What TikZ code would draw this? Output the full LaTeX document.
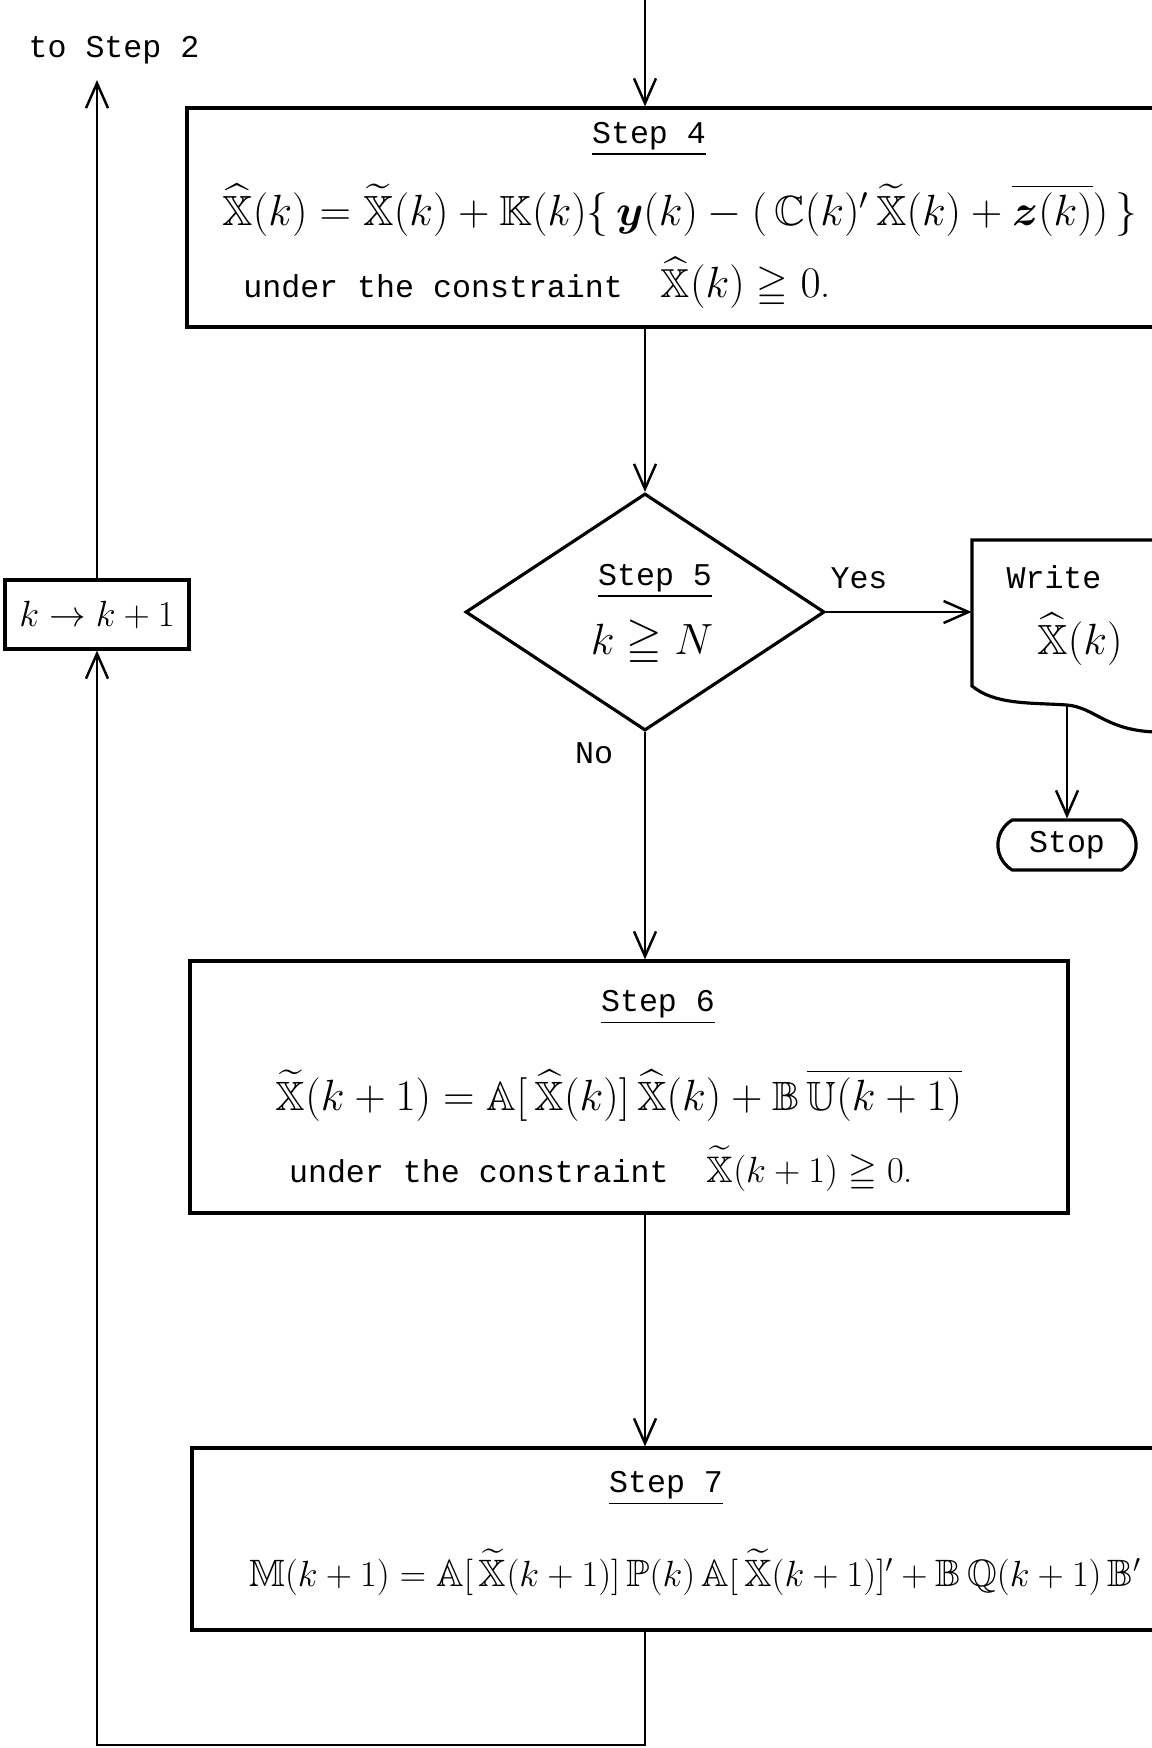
\documentclass[tikz,border=0pt]{standalone}
\usepackage{fontspec}
\usepackage{amsmath}
\usepackage{amssymb}
\setmonofont{Liberation Mono}
\usetikzlibrary{arrows.meta, shapes.geometric, shapes.misc}

\begin{document}
\begin{tikzpicture}[
    stepbox/.style   = {rectangle, draw, line width=1.8pt, inner sep=0pt},
    decbox/.style    = {diamond, draw, line width=1.8pt, inner sep=0pt,
                        align=center},
    conductor/.style = {line width=1.4pt},
    flow/.style      = {->, >={Straight Barb[length=5mm, width=4.4mm]},
                        line width=1.4pt},
    lbl/.style       = {font=\ttfamily\fontsize{18}{22}\selectfont},
    eqn/.style       = {font=\fontsize{24}{28}\selectfont},
]
\useasboundingbox (0,0) rectangle (23.04,-34.96);
\clip (0,0) rectangle (23.04,-34.96);

% ============================================================
%  MAIN SPINE  -  vertical run at x=12.9
% ============================================================
\coordinate (entry) at (12.9, 0.1);

% ============================================================
%  STEP 4  -  filter update (box runs off the right edge)
% ============================================================
\node[stepbox, minimum width=20.76cm, minimum height=4.38cm]
    (step4) at (14.12, -4.35) {};
\node[lbl] (step4lbl) at (12.98, -2.78) {\underline{Step 4}};
\node[eqn] (step4eq) at (13.6, -4.2)
    {$\widehat{\mathbb{X}}(k) = \widetilde{\mathbb{X}}(k) + \mathbb{K}(k)\{\,
      \boldsymbol{y}(k) - (\,\mathbb{C}(k)'\,\widetilde{\mathbb{X}}(k)
      + \overline{\boldsymbol{z}(k)})\,\}$};
\node[lbl] (step4con) at (10.74, -5.66)
    {under the constraint \ {\normalfont\fontsize{23}{27}\selectfont
     $\widehat{\mathbb{X}}(k) \geqq 0$.}};

% ============================================================
%  STEP 5  -  decision
% ============================================================
\node[decbox, minimum width=7.18cm, minimum height=4.74cm]
    (dec) at (12.9, -12.24) {};
\node[lbl] (step5lbl) at (13.1, -11.62) {\underline{Step 5}};
\node[eqn, font=\fontsize{26}{30}\selectfont] (step5eq) at (13.04, -12.86)
    {$k \geqq N$};
\node[lbl] (yes) at (17.18, -11.56) {Yes};
\node[lbl] (no)  at (11.88, -15.06) {No};

% ============================================================
%  OUTPUT  -  document shape and terminal
% ============================================================
\draw[line width=1.8pt]
    (24.0, -10.8) -- (19.44, -10.8)   % top edge, off the page
    -- (19.44, -13.72)                % left edge
    .. controls (19.9, -14.1) and (20.6, -14.05) .. (21.34, -14.1)
    .. controls (21.9, -14.15) and (22.1, -14.6) .. (23.1, -14.64);
\node[minimum width=4.5cm, minimum height=2.92cm]
    (write) at (21.69, -12.26) {};
\node[lbl] (writelbl) at (21.08, -11.54) {Write};
\node[eqn] (writeeq)  at (21.6, -12.78) {$\widehat{\mathbb{X}}(k)$};
\coordinate (wave) at (21.34, -14.1);
\node[rounded rectangle, rounded rectangle arc length=120, draw,
      line width=1.8pt, minimum width=3cm, minimum height=1cm, lbl]
    (stop) at (21.34, -16.9) {Stop};

% ============================================================
%  STEP 6  -  state prediction
% ============================================================
\node[stepbox, minimum width=17.56cm, minimum height=5.04cm]
    (step6) at (12.58, -21.74) {};
\node[lbl] (step6lbl) at (13.16, -20.14) {\underline{Step 6}};
\node[eqn, font=\fontsize{23.3}{27}\selectfont] (step6eq) at (12.38, -21.9)
    {$\widetilde{\mathbb{X}}(k+1) = \mathbb{A}[\,\widehat{\mathbb{X}}(k)]\,
      \widehat{\mathbb{X}}(k) + \mathbb{B}\,\overline{\mathbb{U}(k+1)}$};
\node[lbl] (step6con) at (12.02, -23.38)
    {under the constraint \ {\normalfont\fontsize{21}{25}\selectfont
     $\widetilde{\mathbb{X}}(k+1) \geqq 0$.}};

% ============================================================
%  STEP 7  -  covariance prediction (box runs off the right edge)
% ============================================================
\node[stepbox, minimum width=20.66cm, minimum height=3.64cm]
    (step7) at (14.17, -30.78) {};
\node[lbl] (step7lbl) at (13.32, -29.76) {\underline{Step 7}};
\node[eqn, font=\fontsize{21.7}{26}\selectfont] (step7eq) at (13.9, -31.44)
    {$\mathbb{M}(k+1) = \mathbb{A}[\,\widetilde{\mathbb{X}}(k+1)]\,\mathbb{P}(k)\,
      \mathbb{A}[\,\widetilde{\mathbb{X}}(k+1)]' + \mathbb{B}\,\mathbb{Q}(k+1)\,
      \mathbb{B}'$};

% ============================================================
%  LOOP BACK  -  k -> k+1, then to Step 2
% ============================================================
\node[stepbox, minimum width=3.68cm, minimum height=1.38cm,
      font=\fontsize{20}{24}\selectfont]
    (kbox) at (1.94, -12.29) {$k \rightarrow k+1$};
\node[lbl] (tostep) at (2.28, -1.0) {to Step 2};
\coordinate (loopcorner) at (1.94, -34.9);

% ============================================================
%  CONNECTORS
% ============================================================
\draw[flow] (entry) -- (entry |- step4.north);
\draw[flow] (entry |- step4.south) -- (dec.north);
\draw[flow] (dec.east) -- (dec.east -| write.west);
\draw[flow] (wave) -- (stop.north);
\draw[flow] (dec.south) -- (dec.south |- step6.north);
\draw[flow] (dec.south |- step6.south) -- (dec.south |- step7.north);
\draw[flow] (dec.south |- step7.south) |- (loopcorner) -- (kbox.south);
\draw[flow] (kbox.north) -- ([yshift=-0.2cm]tostep.south -| kbox.north);

\end{tikzpicture}
\end{document}
